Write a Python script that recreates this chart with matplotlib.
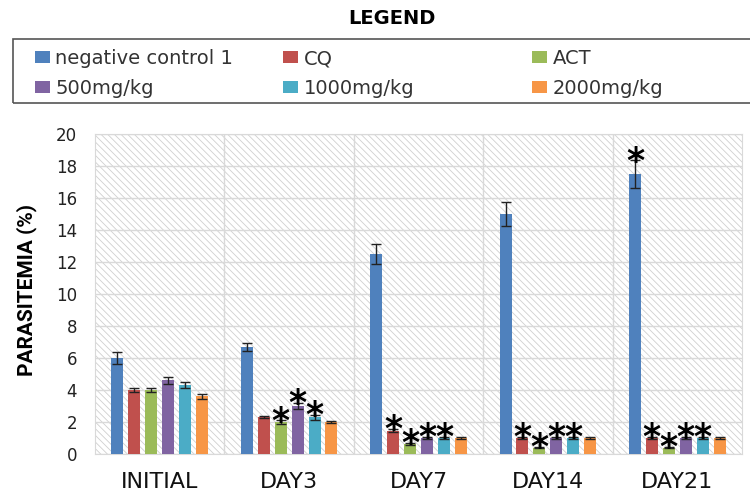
import matplotlib.pyplot as plt
import matplotlib.patches as mpatches
import numpy as np

# Паразитемия по дням (среднее и ошибка), шесть групп
days = ["INITIAL", "DAY3", "DAY7", "DAY14", "DAY21"]
groups = ["negative control 1", "CQ", "ACT", "500mg/kg", "1000mg/kg", "2000mg/kg"]
colors = ["#4F81BD", "#C0504D", "#9BBB59", "#8064A2", "#4BACC6", "#F79646"]

neg_control = [6.0, 6.7, 12.5, 15.0, 17.5]
cq = [4.0, 2.3, 1.45, 1.0, 1.0]
act = [4.0, 2.0, 0.65, 0.4, 0.4]
dose_500 = [4.6, 3.0, 1.0, 1.0, 1.0]
dose_1000 = [4.3, 2.3, 1.0, 1.0, 1.0]
dose_2000 = [3.6, 2.0, 1.0, 1.0, 1.0]

neg_control_err = [0.35, 0.25, 0.65, 0.75, 0.85]
cq_err = [0.15, 0.08, 0.1, 0.06, 0.06]
act_err = [0.15, 0.1, 0.06, 0.04, 0.04]
dose_500_err = [0.2, 0.18, 0.06, 0.06, 0.06]
dose_1000_err = [0.2, 0.15, 0.06, 0.06, 0.06]
dose_2000_err = [0.15, 0.08, 0.06, 0.06, 0.06]

# звёздочки значимости: 1 = есть
neg_control_sig = [0, 0, 0, 0, 1]
cq_sig = [0, 0, 1, 1, 1]
act_sig = [0, 1, 1, 1, 1]
dose_500_sig = [0, 1, 1, 1, 1]
dose_1000_sig = [0, 1, 1, 1, 1]
dose_2000_sig = [0, 0, 0, 0, 0]

values = [neg_control, cq, act, dose_500, dose_1000, dose_2000]
errors = [neg_control_err, cq_err, act_err, dose_500_err, dose_1000_err, dose_2000_err]
signif = [neg_control_sig, cq_sig, act_sig, dose_500_sig, dose_1000_sig, dose_2000_sig]

plt.rcParams["hatch.linewidth"] = 0.6

fig = plt.figure(figsize=(7.5, 4.92), dpi=100)
ax = fig.add_axes([95 / 750, 38 / 492, 647 / 750, 320 / 492])

# заштрихованный фон области построения
ax.set_facecolor("white")
bg = mpatches.Rectangle((0, 0), 1, 1, transform=ax.transAxes, facecolor="white",
                        edgecolor="#d0d0d0", hatch="\\\\\\\\\\", lw=0, zorder=0)
ax.add_patch(bg)

x = np.arange(len(days))
pitch = 0.131
width = 0.093
handles = []
for i, (vals, errs, sig) in enumerate(zip(values, errors, signif)):
    pos = x + (i - 2.5) * pitch
    b = ax.bar(pos, vals, width, color=colors[i], zorder=3, label=groups[i])
    ax.errorbar(pos, vals, yerr=errs, fmt="none", ecolor="#222222",
                elinewidth=1, capsize=3.5, capthick=1, zorder=4)
    handles.append(b)
    for p, v, e, s in zip(pos, vals, errs, sig):
        if s:
            ax.annotate("*", xy=(p, v + e), xytext=(0, -8), textcoords="offset points",
                        ha="center", va="baseline", fontsize=25, fontweight="bold",
                        color="black", zorder=5)

ax.set_xlim(-0.5, 4.5)
ax.set_ylim(0, 20)
ax.set_yticks(np.arange(0, 21, 2))
ax.set_xticks(x)
ax.set_xticklabels(days, fontsize=16, color="#111111")
ax.set_xticks(x[:-1] + 0.5, minor=True)
ax.tick_params(axis="x", which="both", length=0, pad=13)
ax.tick_params(axis="y", length=0, pad=13, labelsize=12, labelcolor="#222222")
ax.grid(axis="y", color="#d9d9d9", lw=1, zorder=1)
ax.grid(axis="x", which="minor", color="#d9d9d9", lw=1, zorder=1)
ax.grid(axis="x", which="major", visible=False)
for sp in ax.spines.values():
    sp.set_color("#d9d9d9")

ax.set_ylabel("PARASITEMIA (%)", fontsize=15, fontweight="bold", family="Roboto")
ax.yaxis.set_label_coords(-0.09, 0.5125)

# легенда сверху в рамке
fig.text(0.522, 0.963, "LEGEND", ha="center", va="center", fontsize=14, fontweight="bold")
box = mpatches.Rectangle((13 / 750, 1 - 103 / 492), 1, 64 / 492, transform=fig.transFigure,
                         fill=False, edgecolor="#555555", lw=1.2)
fig.patches.append(box)

col_x = [35 / 750, 283 / 750, 532 / 750]
for c in range(3):
    fig.legend([handles[c], handles[c + 3]], [groups[c], groups[c + 3]],
               loc="center left", bbox_to_anchor=(col_x[c], 1 - 73.5 / 492),
               frameon=False, fontsize=14, handlelength=0.75, handleheight=0.6,
               handletextpad=0.3, labelspacing=0.55, borderpad=0, borderaxespad=0,
               labelcolor="#333333")

fig.savefig("out.png", dpi=100)
